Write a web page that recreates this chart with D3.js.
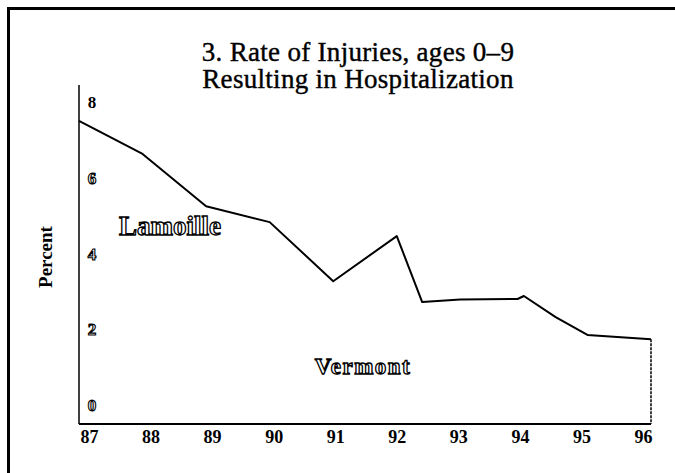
<!DOCTYPE html>
<html>
<head>
<meta charset="utf-8">
<script src="https://cdn.jsdelivr.net/npm/d3@7"></script>
<style>
  body { margin: 0; background: #fff; }
  text { font-family: "Liberation Serif", "Times New Roman", serif; }
</style>
</head>
<body>
<div id="chart"></div>
<script>
// tick labels along the bottom
const years = ["87", "88", "89", "90", "91", "92", "93", "94", "95", "96"];
const yTicks = [0, 2, 4, 6, 8];

// Lamoille series
const lamoilleYear = [87, 88, 89, 90, 91, 92, 92.4, 93, 93.9, 94, 94.5, 95, 96];
const lamoilleRate = [7.5, 6.63, 5.25, 4.83, 3.27, 4.46, 2.72, 2.79, 2.80, 2.88, 2.32, 1.85, 1.74];

const width = 675;
const height = 473;

const svg = d3.select("#chart")
    .append("svg")
    .attr("width", width)
    .attr("height", height);

svg.append("rect")
    .attr("width", width)
    .attr("height", height)
    .attr("fill", "#fff");

// outer frame (right and bottom edges fall outside the page)
svg.append("rect")
    .attr("x", 8.5)
    .attr("y", 8.5)
    .attr("width", 720)
    .attr("height", 520)
    .attr("fill", "none")
    .attr("stroke", "#000")
    .attr("stroke-width", 3);

const x = d3.scaleLinear()
    .domain([87, 96])
    .range([79, 651]);

const y = d3.scaleLinear()
    .domain([-0.5, 8.45])
    .range([424, 85]);

const xLabel = d3.scalePoint()
    .domain(years)
    .range([89, 643]);

// title
const title = svg.append("text")
    .attr("text-anchor", "middle")
    .attr("font-family", "Liberation Serif")
    .attr("font-size", 27)
    .attr("letter-spacing", 0.3)
    .attr("fill", "#000")
    .attr("stroke", "#000")
    .attr("stroke-width", 0.4);
title.append("tspan").attr("x", 358).attr("y", 61).text("3. Rate of Injuries, ages 0\u20139");
title.append("tspan").attr("x", 358).attr("y", 88).text("Resulting in Hospitalization");

// axis lines
svg.append("line")
    .attr("x1", x(87)).attr("x2", x(87))
    .attr("y1", y.range()[0]).attr("y2", y.range()[1])
    .attr("stroke", "#000")
    .attr("stroke-width", 1.5);

svg.append("line")
    .attr("x1", x(87)).attr("x2", x(96))
    .attr("y1", y.range()[0]).attr("y2", y.range()[0])
    .attr("stroke", "#000")
    .attr("stroke-width", 2);

// x labels
const xAxis = svg.append("g")
    .attr("transform", `translate(0,${y.range()[0]})`)
    .call(d3.axisBottom(xLabel).tickSize(0).tickPadding(0));
xAxis.select(".domain").remove();
xAxis.selectAll("text")
    .attr("dy", 19)
    .attr("font-family", "Liberation Serif")
    .attr("font-size", 18)
    .attr("font-weight", "bold")
    .attr("fill", "#000");

// y labels, sitting inside the axis
svg.selectAll(".ylab")
    .data(yTicks)
    .enter().append("text")
    .attr("class", "ylab")
    .attr("x", 92)
    .attr("y", d => y(d))
    .attr("dy", "0.35em")
    .attr("text-anchor", "middle")
    .attr("font-size", 17)
    .attr("font-weight", "bold")
    .attr("fill", d => d === 8 ? "#000" : "#fff")
    .attr("stroke", "#000")
    .attr("stroke-width", d => d === 8 ? 0 : 1.1)
    .text(d => d);

svg.append("text")
    .attr("transform", "translate(52,257) rotate(-90)")
    .attr("text-anchor", "middle")
    .attr("font-size", 19)
    .attr("font-weight", "bold")
    .attr("fill", "#000")
    .text("Percent");

// series line
const points = lamoilleYear.map((d, i) => [d, lamoilleRate[i]]);
svg.append("path")
    .datum(points)
    .attr("fill", "none")
    .attr("stroke", "#000")
    .attr("stroke-width", 2)
    .attr("stroke-linejoin", "round")
    .attr("d", d3.line().x(d => x(d[0])).y(d => y(d[1])));

// drop from the last point down to the base
const last = points[points.length - 1];
svg.append("line")
    .attr("x1", x(last[0])).attr("x2", x(last[0]))
    .attr("y1", y(last[1])).attr("y2", y.range()[0])
    .attr("stroke", "#000")
    .attr("stroke-width", 1.5)
    .attr("stroke-dasharray", "3,1");

// outlined area labels
svg.append("text")
    .attr("x", 170)
    .attr("y", 235)
    .attr("text-anchor", "middle")
    .attr("font-size", 27)
    .attr("font-weight", "bold")
    .attr("fill", "#fff")
    .attr("stroke", "#000")
    .attr("stroke-width", 1.3)
    .text("Lamoille");

svg.append("text")
    .attr("x", 363)
    .attr("y", 374)
    .attr("text-anchor", "middle")
    .attr("font-size", 23)
    .attr("font-weight", "bold")
    .attr("letter-spacing", 1.5)
    .attr("fill", "#fff")
    .attr("stroke", "#000")
    .attr("stroke-width", 1.3)
    .text("Vermont");
</script>
</body>
</html>
